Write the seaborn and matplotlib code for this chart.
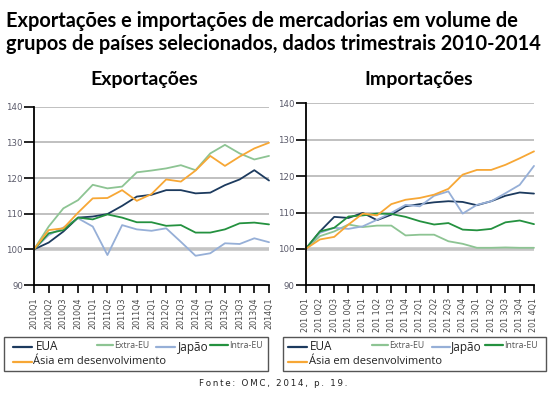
import numpy as np
import pandas as pd
import matplotlib
matplotlib.use("Agg")
import matplotlib.pyplot as plt
import seaborn as sns
from matplotlib.lines import Line2D
from matplotlib.patches import Rectangle

quarters = ["2010Q1", "2010Q2", "2010Q3", "2010Q4", "2011Q1", "2011Q2", "2011Q3", "2011Q4",
            "2012Q1", "2012Q2", "2012Q3", "2012Q4", "2013Q1", "2013Q2", "2013Q3", "2013Q4", "2014Q1"]
quarters_imp = ["201 " + q[3:] for q in quarters]

series_names = ["EUA", "Extra-EU", "Japão", "Intra-EU", "Ásia em desenvolvimento"]

# exportacoes
exp_eua = [100, 101.9, 105.0, 108.9, 109.2, 109.9, 112.2, 114.8, 115.3, 116.6, 116.6, 115.7, 115.9, 118.0, 119.6, 122.2, 119.3]
exp_extra = [100, 106.4, 111.5, 113.8, 118.1, 117.1, 117.6, 121.6, 122.1, 122.7, 123.6, 122.2, 126.9, 129.3, 126.9, 125.2, 126.2]
exp_japao = [100, 104.0, 106.1, 108.7, 106.4, 98.4, 106.8, 105.6, 105.2, 105.9, 102.1, 98.2, 98.9, 101.7, 101.5, 103.1, 102.0]
exp_intra = [100, 104.5, 105.4, 108.9, 108.4, 109.8, 108.9, 107.6, 107.6, 106.6, 106.8, 104.7, 104.7, 105.6, 107.3, 107.5, 107.0]
exp_asia = [100, 105.4, 105.9, 110.3, 114.3, 114.4, 116.6, 113.6, 115.5, 119.6, 119.0, 122.1, 126.2, 123.4, 126.0, 128.3, 129.9]

# importacoes
imp_eua = [100, 104.8, 108.8, 108.5, 109.9, 107.9, 109.4, 111.7, 112.3, 112.8, 113.1, 112.9, 112.0, 113.1, 114.6, 115.5, 115.2]
imp_extra = [100, 103.5, 104.8, 106.7, 106.0, 106.4, 106.4, 103.7, 103.9, 103.9, 102.1, 101.4, 100.3, 100.3, 100.4, 100.3, 100.3]
imp_japao = [100, 104.4, 105.8, 105.5, 106.2, 108.0, 109.9, 112.1, 111.7, 114.6, 115.8, 109.7, 112.1, 113.1, 115.3, 117.6, 122.8]
imp_intra = [100, 104.8, 105.8, 108.9, 109.2, 109.7, 109.6, 108.8, 107.6, 106.7, 107.1, 105.3, 105.1, 105.5, 107.3, 107.8, 106.8]
imp_asia = [100, 102.6, 103.3, 106.7, 109.7, 109.2, 112.3, 113.5, 114.0, 114.9, 116.5, 120.4, 121.7, 121.7, 123.1, 124.9, 126.8]

colors = {"EUA": "#1c3a5e", "Extra-EU": "#8dc493", "Japão": "#96afd7",
          "Intra-EU": "#24913f", "Ásia em desenvolvimento": "#f7a735"}


def long_df(values):
    rows = []
    for name, vals in zip(series_names, values):
        for i, v in enumerate(vals):
            rows.append({"q": i, "v": v, "serie": name})
    return pd.DataFrame(rows)


df_exp = long_df([exp_eua, exp_extra, exp_japao, exp_intra, exp_asia])
df_imp = long_df([imp_eua, imp_extra, imp_japao, imp_intra, imp_asia])

sns.set_style("white")
plt.rcParams["font.family"] = ["DejaVu Sans"]

fig = plt.figure(figsize=(5.5, 3.98), dpi=100)
ax1 = fig.add_axes([0.0618, 0.2839, 0.4273, 0.448])
ax2 = fig.add_axes([0.5558, 0.2832, 0.4151, 0.4572])


def style(ax, labels):
    for y in [110, 120, 130, 140]:
        ax.axhline(y, color="#b5b5b5", lw=1.2, zorder=0)
    ax.axhline(100, color="#c4c4c4", lw=2.6, zorder=0)
    ax.set_xlim(0, 16)
    ax.set_ylim(90, 140)
    ax.set_yticks([90, 100, 110, 120, 130, 140])
    ax.set_yticklabels(["90", "100", "110", "120", "130", "140"])
    ax.set_xticks(range(len(labels)))
    ax.set_xticklabels(labels, rotation=90)
    ax.tick_params(axis="y", direction="out", length=7, width=1.2, color="black",
                   labelsize=6.2, labelcolor="#5a5a6a", pad=1, left=True)
    ax.tick_params(axis="x", direction="out", length=6, width=1.2, color="black",
                   labelsize=5.8, labelcolor="#4a4a4a", pad=3, bottom=True)
    for s in ["top", "right"]:
        ax.spines[s].set_visible(False)
    for s in ["left", "bottom"]:
        ax.spines[s].set_color("black")
        ax.spines[s].set_linewidth(1.3)
    ax.set_xlabel("")
    ax.set_ylabel("")


for ax, df, labels in [(ax1, df_exp, quarters), (ax2, df_imp, quarters_imp)]:
    sns.lineplot(data=df, x="q", y="v", hue="serie", palette=colors, ax=ax,
                 legend=False, linewidth=1.3, clip_on=False)
    style(ax, labels)

# titulos
fig.text(0.010, 1 - 27 / 398, "Exportações e importações de mercadorias em volume de",
         fontsize=14.4, fontweight="bold", family="Lato", ha="left", va="baseline",
         color="black")
fig.text(0.010, 1 - 50 / 398, "grupos de países selecionados, dados trimestrais 2010-2014",
         fontsize=14.4, fontweight="bold", family="Lato", ha="left", va="baseline",
         color="black")
fig.text(0.262, 1 - 85 / 398, "Exportações", fontsize=14, family="Lato", fontweight="bold",
         ha="center", va="baseline", color="black")
fig.text(0.762, 1 - 85 / 398, "Importações", fontsize=14, family="Lato", fontweight="bold",
         ha="center", va="baseline", color="black")


# legendas desenhadas a mao
def legend_box(x0, x1, items):
    W, H = 550.0, 398.0
    fig.add_artist(Rectangle((x0 / W, 1 - 371 / H), (x1 - x0) / W, 34 / H,
                             fill=False, edgecolor="#555555", lw=1.0,
                             transform=fig.transFigure))
    for name, lx0, lx1, tx, ty, fs in items:
        fig.add_artist(Line2D([lx0 / W, lx1 / W], [1 - ty / H, 1 - ty / H],
                              color=colors[name], lw=1.6, transform=fig.transFigure))
        fig.text(tx / W, 1 - ty / H, name, fontsize=fs, ha="left", va="center",
                 color="#222222" if fs > 7 else "#555555", family="Open Sans")


legend_box(4, 268, [
    ("EUA", 13, 32, 36, 347, 8.5),
    ("Extra-EU", 97, 113, 114, 345, 6.3),
    ("Japão", 156, 175, 178, 347, 8.5),
    ("Intra-EU", 210, 228, 229, 345, 6.3),
    ("Ásia em desenvolvimento", 13, 32, 33, 362, 8.0),
])
legend_box(283, 546, [
    ("EUA", 288, 307, 310, 347, 8.5),
    ("Extra-EU", 372, 388, 389, 345, 6.3),
    ("Japão", 432, 450, 451, 347, 8.5),
    ("Intra-EU", 485, 503, 504, 345, 6.3),
    ("Ásia em desenvolvimento", 288, 307, 309, 362, 8.0),
])

fig.text(0.497, 1 - 384 / 398, "\u2009".join("Fonte: OMC, 2014, p. 19."), fontsize=6.3,
         ha="center", va="center", color="#222222")

fig.savefig("out.png", dpi=100)
